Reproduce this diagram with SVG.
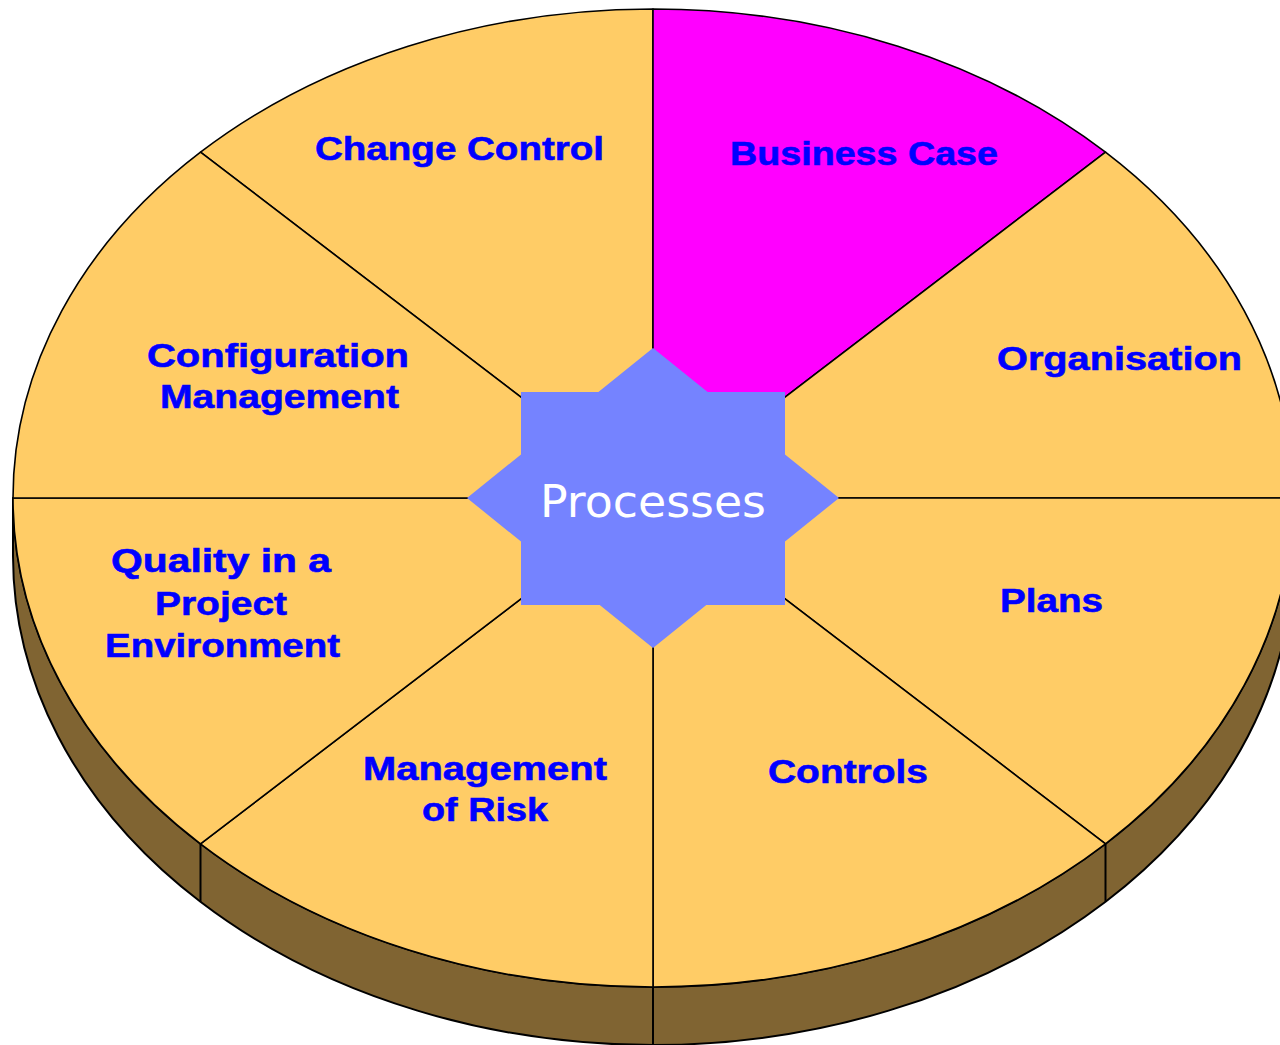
<svg xmlns="http://www.w3.org/2000/svg" width="1280" height="1045" viewBox="0 0 1280 1045">
<style>
.slice{fill:#FFCC66;stroke:#000;stroke-width:1.6;stroke-linejoin:round}
.hot{fill:#FF00FF}
.side{fill:#806432;stroke:#000;stroke-width:2;stroke-linejoin:round}
.edge{stroke:#000;stroke-width:2;fill:none}
.lbl{font-family:"Liberation Sans",Arial,sans-serif;font-weight:bold;font-size:34px;fill:#0000FF;stroke:#0000FF;stroke-width:0.6}
.ctr{font-family:"DejaVu Sans","Open Sans",sans-serif;font-size:45px;fill:#FFFFFF}
</style>
<rect width="1280" height="1045" fill="#FFFFFF"/>
<g id="pie-side">
<path class="side" d="M13 498 L13 556 A640 489 0 0 0 1293 556 L1293 498 A640 489 0 0 1 13 498 Z"/>
<path class="edge" d="M200.5 843.8 V901.8 M653 987 V1045 M1105.5 843.8 V901.8"/>
</g>
<g id="connectors">
</g>
<g id="slice-change-control">
<path class="slice" d="M653 498 L200.5 152.2 A640 489 0 0 1 653 9 Z"/>
<text class="lbl" x="315" y="160" textLength="289" lengthAdjust="spacingAndGlyphs">Change Control</text>
</g>
<g id="slice-business-case">
<path class="slice hot" d="M653 498 L653 9 A640 489 0 0 1 1105.5 152.2 Z"/>
<text class="lbl" x="730" y="165" textLength="268" lengthAdjust="spacingAndGlyphs">Business Case</text>
</g>
<g id="slice-organisation">
<path class="slice" d="M653 498 L1105.5 152.2 A640 489 0 0 1 1293 498 Z"/>
<text class="lbl" x="997" y="370" textLength="245" lengthAdjust="spacingAndGlyphs">Organisation</text>
</g>
<g id="slice-plans">
<path class="slice" d="M653 498 L1293 498 A640 489 0 0 1 1105.5 843.8 Z"/>
<text class="lbl" x="1000" y="612" textLength="103" lengthAdjust="spacingAndGlyphs">Plans</text>
</g>
<g id="slice-controls">
<path class="slice" d="M653 498 L1105.5 843.8 A640 489 0 0 1 653 987 Z"/>
<text class="lbl" x="768" y="783" textLength="160" lengthAdjust="spacingAndGlyphs">Controls</text>
</g>
<g id="slice-management-of-risk">
<path class="slice" d="M653 498 L653 987 A640 489 0 0 1 200.5 843.8 Z"/>
<text class="lbl" x="363" y="780" textLength="244" lengthAdjust="spacingAndGlyphs">Management</text>
<text class="lbl" x="422" y="821" textLength="126" lengthAdjust="spacingAndGlyphs">of Risk</text>
</g>
<g id="slice-quality">
<path class="slice" d="M653 498 L200.5 843.8 A640 489 0 0 1 13 498 Z"/>
<text class="lbl" x="111" y="572" textLength="220" lengthAdjust="spacingAndGlyphs">Quality in a</text>
<text class="lbl" x="155" y="615" textLength="132" lengthAdjust="spacingAndGlyphs">Project</text>
<text class="lbl" x="105" y="657" textLength="235" lengthAdjust="spacingAndGlyphs">Environment</text>
</g>
<g id="slice-configuration-management">
<path class="slice" d="M653 498 L13 498 A640 489 0 0 1 200.5 152.2 Z"/>
<text class="lbl" x="147" y="367" textLength="262" lengthAdjust="spacingAndGlyphs">Configuration</text>
<text class="lbl" x="160" y="408" textLength="239" lengthAdjust="spacingAndGlyphs">Management</text>
</g>
<g id="processes">
<polygon fill="#7583FF" points="653,348 707.6,392 785,392 785,454.5 839,498 785,541.5 785,605 706.3,605 653,648 599.7,605 521,605 521,541.5 467,498 521,454.5 521,392 598.4,392"/>
<text class="ctr" x="540" y="517" textLength="226" lengthAdjust="spacingAndGlyphs">Processes</text>
</g>
</svg>
